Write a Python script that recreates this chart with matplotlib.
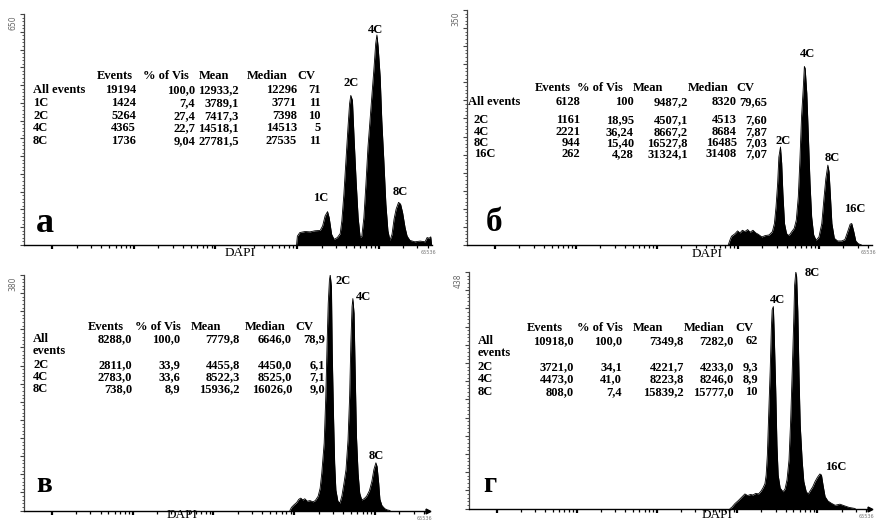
import numpy as np
import matplotlib.pyplot as plt

plt.rcParams['font.family'] = ['Liberation Serif', 'DejaVu Serif']

W, H = 884, 521

# DAPI histograms: channel (0-1000 along the log DAPI axis) and event counts
chan_a = [668, 670, 676, 689, 701, 713, 726, 732, 738, 744, 748, 754, 760, 768, 775,
          779, 784, 789, 794, 798, 801, 805, 809, 814, 819, 824, 828, 833, 838, 843,
          848, 853, 858, 862, 865, 868, 873, 877, 882, 887, 892, 897, 902, 907, 912,
          918, 923, 928, 934, 939, 946, 958, 971, 983, 988, 993, 997, 999]
count_a = [0, 25, 35, 38, 37, 40, 41, 54, 82, 94, 77, 30, 16, 21, 32,
           68, 143, 237, 330, 398, 421, 407, 302, 181, 77, 21, 25, 77, 171, 275,
           350, 426, 501, 567, 591, 558, 473, 350, 237, 115, 40, 13, 30, 73, 101,
           120, 115, 91, 49, 25, 13, 9, 11, 9, 21, 19, 23, 0]

chan_b = [645, 649, 653, 662, 668, 674, 680, 686, 693, 699, 706, 713, 719, 728, 736,
          746, 754, 759, 763, 767, 770, 774, 777, 780, 784, 789, 795, 802, 808, 813,
          818, 822, 826, 830, 833, 835, 839, 843, 847, 851, 856, 862, 869, 876, 881,
          886, 891, 894, 897, 901, 907, 915, 925, 933, 940, 946, 950, 955, 960, 966, 974]
count_b = [0, 7, 13, 17, 21, 18, 22, 20, 23, 19, 22, 18, 16, 12, 14,
           15, 20, 32, 57, 92, 131, 146, 122, 77, 32, 17, 14, 20, 25, 37,
           72, 127, 191, 231, 266, 263, 226, 161, 92, 42, 15, 7, 12, 32, 67,
           99, 119, 109, 77, 32, 10, 6, 6, 8, 20, 31, 32, 20, 6, 2, 0]

chan_c = [658, 662, 668, 675, 680, 685, 690, 695, 701, 708, 715, 721, 728, 733, 737,
          743, 747, 750, 753, 756, 758, 761, 763, 766, 769, 772, 777, 782, 787, 792,
          797, 802, 806, 809, 812, 814, 817, 820, 823, 827, 831, 836, 842, 848, 855,
          861, 866, 871, 874, 878, 881, 886, 893, 899, 906]
count_c = [0, 5, 9, 13, 18, 20, 17, 19, 15, 16, 14, 16, 23, 36, 60,
           109, 184, 264, 334, 372, 380, 361, 254, 157, 76, 33, 15, 12, 24, 44,
           66, 114, 184, 270, 329, 342, 318, 216, 119, 60, 28, 17, 19, 23, 32,
           47, 66, 77, 71, 44, 18, 8, 3, 1, 0]

chan_d = [651, 655, 663, 672, 680, 688, 695, 702, 708, 715, 722, 728, 733, 738, 741,
          744, 747, 751, 754, 756, 759, 761, 765, 768, 771, 776, 783, 788, 793, 798,
          802, 806, 810, 812, 815, 817, 820, 823, 826, 831, 835, 841, 846, 851, 857,
          863, 869, 875, 879, 883, 888, 895, 903, 913, 925, 936, 948, 963]
count_d = [0, 2, 9, 15, 21, 27, 24, 26, 25, 28, 27, 32, 38, 46, 62,
           99, 167, 254, 334, 368, 374, 328, 217, 117, 62, 38, 31, 36, 53, 90,
           161, 254, 353, 414, 438, 430, 365, 247, 155, 87, 50, 31, 27, 33, 40,
           50, 58, 64, 62, 43, 22, 14, 10, 6, 8, 5, 2, 0]

ymax = [650, 350, 380, 438]
letters = ['а', 'б', 'в', 'г']

header = ['Events', '% of Vis', 'Mean', 'Median', 'CV']

rows_a = ['All events', '1C', '2C', '4C', '8C']
vals_a = [['19194', '100,0', '12933,2', '12296', '71'],
          ['1424', '7,4', '3789,1', '3771', '11'],
          ['5264', '27,4', '7417,3', '7398', '10'],
          ['4365', '22,7', '14518,1', '14513', '5'],
          ['1736', '9,04', '27781,5', '27535', '11']]

rows_b = ['All events', '2C', '4C', '8C', '16C']
vals_b = [['6128', '100', '9487,2', '8320', '79,65'],
          ['1161', '18,95', '4507,1', '4513', '7,60'],
          ['2221', '36,24', '8667,2', '8684', '7,87'],
          ['944', '15,40', '16527,8', '16485', '7,03'],
          ['262', '4,28', '31324,1', '31408', '7,07']]

rows_c = ['All\nevents', '2C', '4C', '8C']
vals_c = [['8288,0', '100,0', '7779,8', '6646,0', '78,9'],
          ['2811,0', '33,9', '4455,8', '4450,0', '6,1'],
          ['2783,0', '33,6', '8522,3', '8525,0', '7,1'],
          ['738,0', '8,9', '15936,2', '16026,0', '9,0']]

rows_d = ['All\nevents', '2C', '4C', '8C']
vals_d = [['10918,0', '100,0', '7349,8', '7282,0', '62'],
          ['3721,0', '34,1', '4221,7', '4233,0', '9,3'],
          ['4473,0', '41,0', '8223,8', '8246,0', '8,9'],
          ['808,0', '7,4', '15839,2', '15777,0', '10']]

peaks_a = ['1C', '2C', '4C', '8C']
peaks_b = ['2C', '4C', '8C', '16C']
peaks_c = ['2C', '4C', '8C']
peaks_d = ['4C', '8C', '16C']

# layout in pixels of the reference picture
layout = [
    dict(box=(24, 14, 432, 245), hdr_y=76, hdr_x=[97, 143, 199, 247, 297],
         row_y=[89, 102, 115, 127, 140], lab_x=[33, 33, 33, 33, 33],
         col_x=[136, 195, 239, 297, 321],
         peak_xy=[(321, 198), (351, 83), (375, 30), (400, 192)],
         letter_xy=(45, 224), letter_fs=26, dapi_y=253, arrow=False),
    dict(box=(467, 10, 872, 245), hdr_y=88, hdr_x=[535, 577, 633, 688, 736],
         row_y=[101, 119, 131, 142, 153], lab_x=[468, 474, 474, 474, 474],
         col_x=[580, 634, 688, 737, 767],
         peak_xy=[(783, 141), (808, 54), (832, 158), (855, 209)],
         letter_xy=(494, 222), letter_fs=24, dapi_y=254, arrow=False),
    dict(box=(24, 275, 428, 510.5), hdr_y=327, hdr_x=[88, 135, 191, 245, 295],
         row_y=[338, 364, 376, 388], lab_x=[33, 33, 33, 33],
         col_x=[132, 180, 240, 292, 325],
         peak_xy=[(343, 281), (363, 297), (376, 456)],
         letter_xy=(44, 485), letter_fs=21, dapi_y=514.5, arrow=True),
    dict(box=(469, 272, 870, 508.5), hdr_y=328, hdr_x=[527, 577, 633, 684, 735],
         row_y=[340, 366, 378, 391], lab_x=[478, 478, 478, 478],
         col_x=[574, 622, 684, 734, 758],
         peak_xy=[(778, 300), (812, 273), (836, 467)],
         letter_xy=(490, 485), letter_fs=21, dapi_y=514.5, arrow=True),
]
dapi_x = [240, 707, 182, 717]

chans = [chan_a, chan_b, chan_c, chan_d]
counts = [count_a, count_b, count_c, count_d]
row_labels = [rows_a, rows_b, rows_c, rows_d]
row_vals = [vals_a, vals_b, vals_c, vals_d]
peak_labels = [peaks_a, peaks_b, peaks_c, peaks_d]

# log-looking tick marks: decades 200 channels apart
decade_start = 69
major_x = [decade_start + 200 * k for k in range(5)]
minor_x = [decade_start + 200 * (k + np.log10(m)) for k in range(5) for m in range(2, 10)]
minor_x = [x for x in minor_x if x < 1000]


def fxy(x, y):
    return x / W, 1 - y / H


fig = plt.figure(figsize=(W / 100, H / 100), dpi=100)

for i, lay in enumerate(layout):
    l, t, r, b = lay['box']
    ax = fig.add_axes([l / W, 1 - b / H, (r - l) / W, (b - t) / H])
    ax.fill_between(chans[i], counts[i], color='black', lw=0)
    ax.plot(chans[i], counts[i], color='black', lw=0.6)
    ax.set_xlim(0, 1000)
    ax.set_ylim(0, ymax[i])

    for s in ['top', 'right']:
        ax.spines[s].set_visible(False)
    ax.spines['left'].set_color('#444444')
    ax.spines['left'].set_linewidth(0.9)
    ax.spines['bottom'].set_linewidth(1.0)

    ax.set_xticks(major_x)
    ax.set_xticks(minor_x, minor=True)
    ax.set_yticks(np.linspace(0, ymax[i], 14))
    ax.set_yticks(np.linspace(0, ymax[i], 66), minor=True)
    ax.tick_params(axis='x', which='major', length=3, width=1.6, labelbottom=False)
    ax.tick_params(axis='x', which='minor', length=2.2, width=0.9)
    ax.tick_params(axis='y', which='major', length=3, width=0.8, labelleft=False, color='#444444')
    ax.tick_params(axis='y', which='minor', length=1.6, width=0.6, color='#444444')
    if lay['arrow']:
        ax.plot([1], [0], marker='>', ms=3.5, color='black', transform=ax.transAxes, clip_on=False)

    # top value of the count axis and end of the DAPI axis
    fig.text(*fxy(l - 11, t + 9), str(ymax[i]), rotation=90, ha='center', va='center',
             fontsize=5.5, color='#666666', family='DejaVu Sans')
    fig.text(*fxy(r - 4, b + 8), '65536', ha='center', va='center', fontsize=3.5, color='#777777',
             family='DejaVu Sans')
    fig.text(*fxy(dapi_x[i], lay['dapi_y']), 'DAPI', ha='center', va='center', fontsize=9.5)

    # statistics table
    for s, x in zip(header, lay['hdr_x']):
        fig.text(*fxy(x, lay['hdr_y']), s, ha='left', va='center', fontsize=9, fontweight='bold')
    for y, lx, lab, vals in zip(lay['row_y'], lay['lab_x'], row_labels[i], row_vals[i]):
        fig.text(*fxy(lx, y - 5), lab, ha='left', va='top', fontsize=9,
                 fontweight='bold', linespacing=1.0)
        for v, x in zip(vals, lay['col_x']):
            fig.text(*fxy(x, y - 5), v, ha='right', va='top', fontsize=9, fontweight='bold')

    for s, (x, y) in zip(peak_labels[i], lay['peak_xy']):
        fig.text(*fxy(x, y), s, ha='center', va='center', fontsize=9, fontweight='bold')

    fig.text(*fxy(*lay['letter_xy']), letters[i], ha='center', va='center',
             fontsize=lay['letter_fs'], fontweight='bold')

fig.savefig('out.png', dpi=100)
